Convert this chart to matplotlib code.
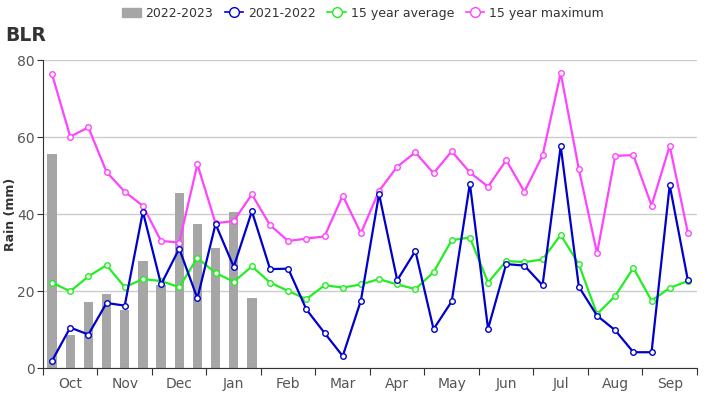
import numpy as np
import matplotlib.pyplot as plt
from matplotlib.patches import Patch
from matplotlib.lines import Line2D

months = ['Oct', 'Nov', 'Dec', 'Jan', 'Feb', 'Mar', 'Apr', 'May', 'Jun', 'Jul', 'Aug', 'Sep']

# dekadal rainfall (mm)
rain_2022_2023 = [55.7, 8.7, 17.2, 19.4, 15.1, 28.0, 21.6, 45.6, 37.5, 31.2, 40.6, 18.3]
rain_2021_2022 = [2.0, 10.6, 8.8, 17.0, 16.3, 40.7, 21.8, 31.1, 18.2, 37.5, 26.4, 40.8,
                  25.8, 25.9, 15.3, 9.2, 3.2, 17.6, 45.3, 22.9, 30.5, 10.2, 17.4, 48.0,
                  10.3, 27.1, 26.7, 21.6, 57.7, 21.2, 13.7, 9.9, 4.2, 4.2, 47.6, 22.9]
avg_15yr = [22.3, 20.0, 23.9, 26.8, 21.1, 23.2, 22.7, 21.1, 28.7, 24.8, 22.5, 26.5,
            22.3, 20.1, 18.0, 21.6, 21.0, 21.8, 23.2, 21.8, 20.6, 25.0, 33.3, 34.0,
            22.3, 27.9, 27.6, 28.3, 34.7, 27.0, 14.1, 18.8, 26.1, 17.6, 20.9, 22.7]
max_15yr = [76.4, 60.2, 62.6, 51.0, 45.9, 42.2, 33.1, 32.7, 53.0, 37.7, 38.3, 45.2,
            37.2, 33.1, 33.7, 34.3, 44.9, 35.1, 46.1, 52.4, 56.1, 50.7, 56.4, 50.9,
            47.2, 54.1, 45.9, 55.3, 76.7, 51.7, 29.9, 55.2, 55.4, 42.3, 57.8, 35.2]

c_bar = '#a6a6a6'
c_blue = '#0000cc'
c_green = '#22ee22'
c_pink = '#ff44ff'

fig = plt.figure(figsize=(7.26, 4.0), dpi=100)
ax = fig.add_axes([0.0592, 0.079, 0.9008, 0.770])

x = np.arange(36)
ax.bar(np.arange(len(rain_2022_2023)), rain_2022_2023, width=0.52, color=c_bar, zorder=2)

mk = dict(marker='o', markersize=4, markerfacecolor='white', markeredgewidth=1.0, linewidth=1.6, zorder=3)
ax.plot(x, max_15yr, color=c_pink, markeredgecolor=c_pink, **mk)
ax.plot(x, avg_15yr, color=c_green, markeredgecolor=c_green, **mk)
ax.plot(x, rain_2021_2022, color=c_blue, markeredgecolor=c_blue, **mk)

ax.set_xlim(-0.5, 35.5)
ax.set_ylim(0, 80)
ax.set_yticks([0, 20, 40, 60, 80])
ax.grid(axis='y', color='#cccccc', linewidth=1, zorder=0)
ax.set_axisbelow(True)

ax.set_xticks(np.arange(-0.5, 36, 3))
ax.set_xticklabels([])
ax.set_xticks(np.arange(1, 36, 3), minor=True)
ax.set_xticklabels(months, minor=True)
ax.tick_params(axis='x', which='major', length=5, color='#333333')
ax.tick_params(axis='x', which='minor', length=0, labelsize=10, labelcolor='#555555', pad=6)
ax.tick_params(axis='y', length=4, color='#333333', labelsize=10, labelcolor='#555555', pad=2)

for s in ['top', 'right']:
    ax.spines[s].set_visible(False)
ax.spines['left'].set_color('#333333')
ax.spines['bottom'].set_color('#333333')

ax.set_ylabel('Rain (mm)', fontsize=9, fontweight='bold', color='#333333', va='center')
ax.yaxis.set_label_coords(-0.050, 0.5)

fig.text(0.007, 0.912, 'BLR', fontsize=13.5, fontweight='bold', color='#333333', va='center')

handles = [
    Patch(facecolor=c_bar, edgecolor=c_bar),
    Line2D([], [], color=c_blue, marker='o', markersize=7, markerfacecolor='white', markeredgecolor=c_blue, linewidth=1.2),
    Line2D([], [], color=c_green, marker='o', markersize=7, markerfacecolor='white', markeredgecolor=c_green, linewidth=1.2),
    Line2D([], [], color=c_pink, marker='o', markersize=7, markerfacecolor='white', markeredgecolor=c_pink, linewidth=1.2),
]
labels = ['2022-2023', '2021-2022', '15 year average', '15 year maximum']
fig.legend(handles, labels, loc='center', bbox_to_anchor=(0.5, 0.967), ncol=4, frameon=False,
           fontsize=9, labelcolor='#333333', handlelength=1.5, handletextpad=0.4, columnspacing=0.9)

fig.savefig('out.png', dpi=100)
